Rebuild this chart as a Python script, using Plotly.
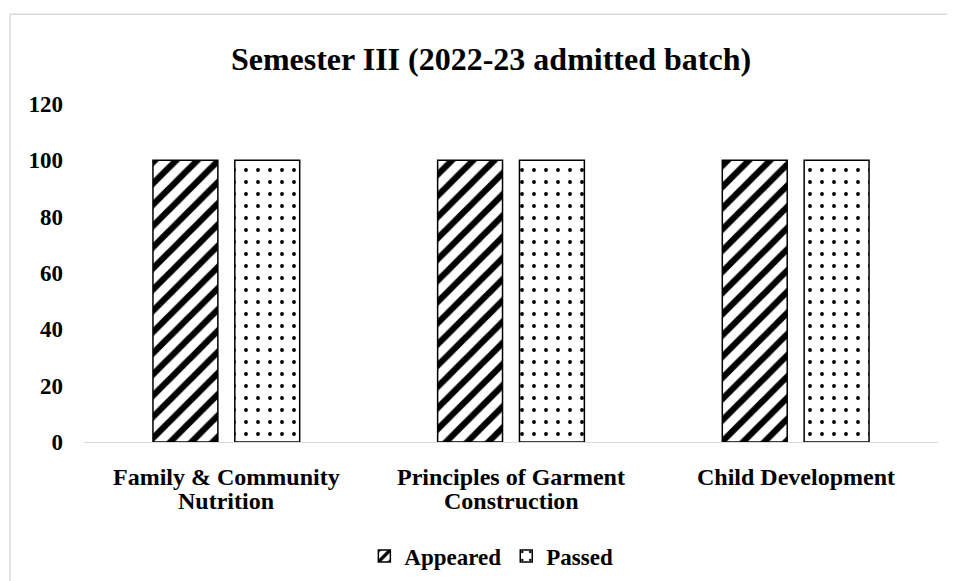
import plotly.graph_objects as go

categories = ["Family & Community Nutrition", "Principles of Garment Construction", "Child Development"]
category_lines = [["Family & Community", "Nutrition"], ["Principles of Garment", "Construction"], ["Child Development"]]
appeared = [100, 100, 100]
passed = [100, 100, 100]
y_ticks = [0, 20, 40, 60, 80, 100, 120]

FONT = "Liberation Serif"
# figure coordinates (page body adds an 8px offset)
L, T = 75.5, 96
PW, PH = 855, 341
R, B = 955 - L - PW, 581 - T - PH

fig = go.Figure()
fig.add_trace(go.Bar(
    name="<b>Appeared</b>", x=categories, y=appeared,
    marker=dict(color="white", line=dict(color="black", width=1.5),
                pattern=dict(shape="/", fgcolor="black", fgopacity=1, bgcolor="white", size=15, solidity=0.42)),
))
fig.add_trace(go.Bar(
    name="<b>Passed</b>", x=categories, y=passed,
    marker=dict(color="white", line=dict(color="black", width=1.5),
                pattern=dict(shape=".", fgcolor="black", fgopacity=1, bgcolor="white", size=12, solidity=0.08)),
))

fig.update_layout(
    width=955, height=581,
    margin=dict(l=L, r=R, t=T, b=B),
    paper_bgcolor="white", plot_bgcolor="white",
    barmode="group", bargap=0.425, bargroupgap=0.207,
    font=dict(family=FONT, size=23, color="black"),
    title=dict(text="<b>Semester III (2022-23 admitted batch)</b>", x=483 / 955, xanchor="center",
               y=1 - 51 / 581, yanchor="middle", font=dict(family=FONT, size=32, color="black")),
    showlegend=True,
    legend=dict(orientation="h", x=0.477, xanchor="center", y=-115 / PH, yanchor="middle",
                font=dict(family=FONT, size=23, color="black"), traceorder="normal"),
    xaxis=dict(showgrid=False, showline=True, linecolor="#d9d9d9", linewidth=1,
               ticks="", showticklabels=False, automargin=False),
    yaxis=dict(range=[0, 120], tickvals=y_ticks, ticktext=["<b>%d</b>" % v for v in y_ticks],
               showgrid=False, zeroline=False, showline=False, ticks="", ticklabelstandoff=20,
               automargin=False, tickfont=dict(family=FONT, size=23, color="black")),
)

# category labels, one annotation per text line
for cat, lines in zip(categories, category_lines):
    for i, line in enumerate(lines):
        fig.add_annotation(x=cat, xref="x", yref="paper", y=-(35 + 25 * i) / PH,
                           yanchor="middle", text="<b>%s</b>" % line, showarrow=False,
                           font=dict(family=FONT, size=24, color="black"))

# outer chart border (light gray)
bx = (1.5 - L) / PW
by = 1 + (T - 5.5) / PH
fig.add_shape(type="line", xref="paper", yref="paper", x0=bx, x1=1.2, y0=by, y1=by,
              line=dict(color="#d9d9d9", width=1.5))
fig.add_shape(type="line", xref="paper", yref="paper", x0=bx, x1=bx, y0=by, y1=-0.6,
              line=dict(color="#d9d9d9", width=1.5))

fig.write_html("out.html")
